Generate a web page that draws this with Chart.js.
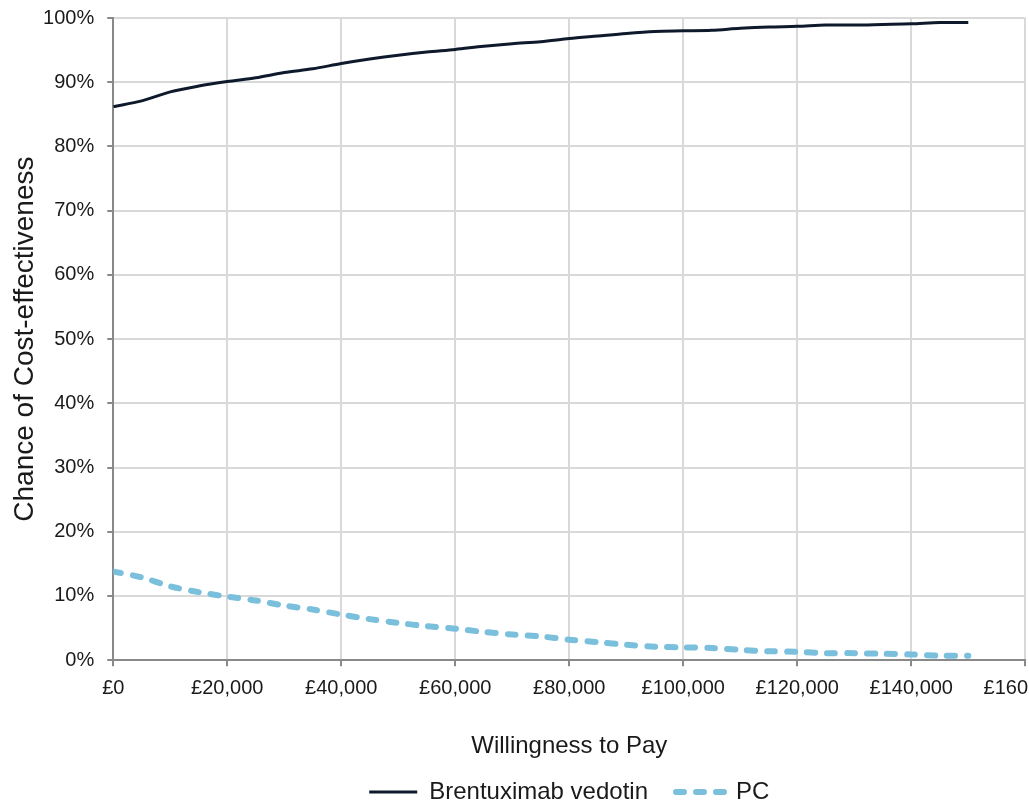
<!DOCTYPE html>
<html>
<head>
<meta charset="utf-8">
<script src="https://cdn.jsdelivr.net/npm/chart.js@4"></script>
<style>
  html, body { margin: 0; padding: 0; background: #fff; overflow: hidden; }
  #wrap { width: 1077px; height: 814px; position: relative; }
</style>
</head>
<body>
<div id="wrap"><canvas id="myChart"></canvas></div>
<script>
// willingness to pay (GBP), one point every 5,000
const wtp = [0, 5000, 10000, 15000, 20000, 25000, 30000, 35000, 40000, 45000,
  50000, 55000, 60000, 65000, 70000, 75000, 80000, 85000, 90000, 95000,
  100000, 105000, 110000, 115000, 120000, 125000, 130000, 135000, 140000, 145000, 150000];
// chance of cost-effectiveness (%)
const brentuximab = [86.2, 87.1, 88.5, 89.4, 90.1, 90.7, 91.5, 92.1, 92.9, 93.6,
  94.2, 94.7, 95.1, 95.6, 96.0, 96.3, 96.8, 97.2, 97.6, 97.9,
  98.0, 98.1, 98.4, 98.6, 98.7, 98.9, 98.9, 99.0, 99.1, 99.3, 99.3];
const pc = [13.8, 12.9, 11.5, 10.6, 9.9, 9.3, 8.5, 7.9, 7.1, 6.4,
  5.8, 5.3, 4.9, 4.4, 4.0, 3.7, 3.2, 2.8, 2.4, 2.1,
  2.0, 1.9, 1.6, 1.4, 1.3, 1.1, 1.1, 1.0, 0.9, 0.7, 0.7];
const seriesNames = ["Brentuximab vedotin", "PC"];
const xTitle = "Willingness to Pay";
const yTitle = "Chance of Cost-effectiveness";

function toPoints(values) {
  return values.map((v, i) => ({ x: wtp[i], y: v }));
}

const axisColor = "#898989";
const gridColor = "#d9d9d9";
const textColor = "#1a1a1a";
const fontFamily = "'Liberation Sans', Arial, sans-serif";

// keep the legend centred under the plot area rather than the whole canvas
const centerLegend = {
  id: "centerLegend",
  afterLayout(chart) {
    const lg = chart.legend;
    const area = chart.chartArea;
    const shift = ((area.left + area.right) - (lg.left + lg.right)) / 2;
    lg.left += shift;
    lg.right += shift;
  }
};

var ctx = document.getElementById("myChart").getContext("2d");
var myChart = new Chart(ctx, {
  type: "line",
  data: {
    datasets: [
      {
        label: seriesNames[0],
        data: toPoints(brentuximab),
        borderColor: "#0e1a2b",
        backgroundColor: "#0e1a2b",
        borderWidth: 3,
        pointRadius: 0,
        tension: 0.3,
        fill: false
      },
      {
        label: seriesNames[1],
        data: toPoints(pc),
        borderColor: "#7abfdc",
        backgroundColor: "#7abfdc",
        borderWidth: 6,
        borderDash: [8, 12],
        borderCapStyle: "round",
        pointRadius: 0,
        tension: 0.3,
        fill: false
      }
    ]
  },
  plugins: [centerLegend],
  options: {
    responsive: true,
    maintainAspectRatio: false,
    animation: false,
    layout: { padding: { top: 0, left: 8, right: 0, bottom: 0 } },
    plugins: {
      tooltip: { enabled: false },
      legend: {
        position: "bottom",
        labels: {
          usePointStyle: true,
          pointStyle: "line",
          pointStyleWidth: 48,
          boxHeight: 6,
          padding: 28,
          color: textColor,
          font: { family: fontFamily, size: 24 },
          generateLabels: function (chart) {
            const items = Chart.defaults.plugins.legend.labels.generateLabels(chart);
            items.forEach(item => {
              const ds = chart.data.datasets[item.datasetIndex];
              item.lineDash = ds.borderDash || [];
              item.lineCap = ds.borderCapStyle || "butt";
              item.lineWidth = ds.borderWidth;
              item.strokeStyle = ds.borderColor;
            });
            return items;
          }
        }
      }
    },
    scales: {
      x: {
        type: "linear",
        min: 0,
        max: 160000,
        border: { color: axisColor, width: 2 },
        grid: { color: gridColor, lineWidth: 2, tickLength: 6, tickColor: axisColor },
        ticks: {
          stepSize: 20000,
          maxRotation: 0,
          padding: 10,
          color: textColor,
          font: { family: fontFamily, size: 20 },
          callback: v => "£" + v.toLocaleString("en-GB")
        },
        title: {
          display: true,
          text: xTitle,
          color: textColor,
          font: { family: fontFamily, size: 24 },
          padding: { top: 22, bottom: -9 }
        }
      },
      y: {
        min: 0,
        max: 100,
        border: { color: axisColor, width: 2 },
        grid: { color: gridColor, lineWidth: 2, tickLength: 6, tickColor: axisColor },
        ticks: {
          stepSize: 10,
          padding: 13,
          color: textColor,
          font: { family: fontFamily, size: 20 },
          callback: v => v + "%"
        },
        title: {
          display: true,
          text: yTitle,
          color: textColor,
          font: { family: fontFamily, size: 28 },
          padding: { top: 0, bottom: -11.5 }
        },
        // tick padding would otherwise push the top of the plot down
        afterFit: function (scale) {
          scale.paddingTop = 18;
        }
      }
    }
  }
});
</script>
</body>
</html>
